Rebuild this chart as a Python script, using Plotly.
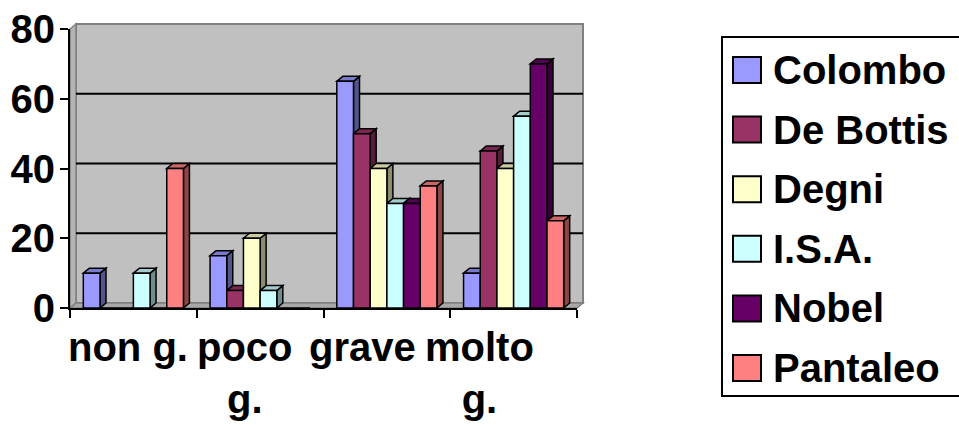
import plotly.graph_objects as go

# ---- data ----
categories = ["non g.", "poco<br>g.", "grave", "molto<br>g."]
series_names = ["Colombo", "De Bottis", "Degni", "I.S.A.", "Nobel", "Pantaleo"]
colombo = [10, 15, 65, 10]
de_bottis = [0, 5, 50, 45]
degni = [0, 20, 40, 40]
isa = [10, 5, 30, 55]
nobel = [0, 0, 30, 70]
pantaleo = [40, 0, 35, 25]
y_ticks = [0, 20, 40, 60, 80]

series_values = [colombo, de_bottis, degni, isa, nobel, pantaleo]
colors = ["#9999FF", "#993366", "#FFFFCC", "#CCFFFF", "#660066", "#FF8080"]

# ---- geometry (pixels) ----
W, H = 959, 425
L, R, T, B = 70, 577, 29, 308          # front plot frame
DX, DY = 6, 5                           # 3-D depth offset
Y_MAX = 80
N = len(categories)
XPPU = (R - L) / N                      # px per category unit
YPPU = (B - T) / Y_MAX                  # px per value unit
DDX, DDY = DX / XPPU, DY / YPPU         # depth in data units

GAP = 0.21
BW = (1 - GAP) / len(series_names)
FONT = dict(family="Liberation Sans", size=40, color="black", weight="bold")


def shade(hex_color, k):
    r, g, b = (int(hex_color[i:i + 2], 16) for i in (1, 3, 5))
    return "#%02X%02X%02X" % (int(r * k), int(g * k), int(b * k))


def px(x):
    return (x - L) / (R - L)


def py(y):
    return (B - y) / (B - T)


fig = go.Figure()
shapes = []

# back wall, side wall and floor
shapes.append(dict(type="rect", xref="paper", yref="paper", layer="below",
                   x0=px(L + DX), x1=px(R + DX), y0=py(B - DY), y1=py(T - DY),
                   fillcolor="#C0C0C0", line=dict(color="#808080", width=2)))
shapes.append(dict(type="path", xref="paper", yref="paper", layer="below",
                   path=f"M{px(L)},{py(B)} L{px(L + DX)},{py(B - DY)} "
                        f"L{px(L + DX)},{py(T - DY)} L{px(L)},{py(T)} Z",
                   fillcolor="#B4B4B4", line=dict(color="#808080", width=1.5)))
shapes.append(dict(type="path", xref="paper", yref="paper", layer="below",
                   path=f"M{px(L)},{py(B)} L{px(R)},{py(B)} "
                        f"L{px(R + DX)},{py(B - DY)} L{px(L + DX)},{py(B - DY)} Z",
                   fillcolor="#A8A8A8", line=dict(color="#808080", width=1.5)))
# gridlines on the back wall
for v in y_ticks[1:-1]:
    yy = py(B - DY - v * YPPU)
    shapes.append(dict(type="line", xref="paper", yref="paper", layer="below",
                       x0=px(L + DX), x1=px(R + DX), y0=yy, y1=yy,
                       line=dict(color="black", width=2)))

# bars: front faces as traces, side/top faces as shapes
for j, (name, vals, col) in enumerate(zip(series_names, series_values, colors)):
    off = -(1 - GAP) / 2 + j * BW
    fig.add_trace(go.Bar(
        x=list(range(N)), y=vals, name=name, width=BW, offset=off,
        marker=dict(color=col, line=dict(color="black", width=1.5)),
        showlegend=False, hoverinfo="y+name"))
    for i, v in enumerate(vals):
        if not v:
            continue
        x0 = i + off
        x1 = x0 + BW
        shapes.append(dict(
            type="path", xref="x", yref="y", layer="between",
            path=f"M{x1},0 L{x1 + DDX},{DDY} L{x1 + DDX},{v + DDY} L{x1},{v} Z",
            fillcolor=shade(col, 0.55), line=dict(color="black", width=1.5)))
        shapes.append(dict(
            type="path", xref="x", yref="y", layer="between",
            path=f"M{x0},{v} L{x0 + DDX},{v + DDY} L{x1 + DDX},{v + DDY} L{x1},{v} Z",
            fillcolor=shade(col, 0.8), line=dict(color="black", width=1.5)))

annotations = []

# category labels, evenly spaced beneath the axis
lab0, lab_step, lab_top = 128, 117.3, 323
for i, cat in enumerate(categories):
    annotations.append(dict(xref="paper", yref="paper", x=px(lab0 + i * lab_step),
                            y=py(lab_top), xanchor="center", yanchor="top",
                            align="center", text=cat, showarrow=False, font=FONT))

# legend: frame, swatches and labels
LG_L, LG_T, LG_B = 722, 37, 396
shapes.append(dict(type="rect", xref="paper", yref="paper", layer="above",
                   x0=px(LG_L), x1=px(W + 5), y0=py(LG_B), y1=py(LG_T),
                   line=dict(color="black", width=2), fillcolor="rgba(0,0,0,0)"))
row0, row_step = 70, 59.6
for k, (name, col) in enumerate(zip(series_names, colors)):
    cy = row0 + k * row_step
    shapes.append(dict(type="rect", xref="paper", yref="paper", layer="above",
                       x0=px(733), x1=px(761), y0=py(cy + 13), y1=py(cy - 13),
                       fillcolor=col, line=dict(color="black", width=2)))
    annotations.append(dict(xref="paper", yref="paper", x=px(771), y=py(cy),
                            xanchor="left", yanchor="middle", text=name,
                            showarrow=False, font=FONT))

fig.update_layout(
    width=W, height=H,
    margin=dict(l=L, r=W - R, t=T, b=H - B, autoexpand=False),
    paper_bgcolor="white", plot_bgcolor="rgba(0,0,0,0)",
    barmode="overlay",
    shapes=shapes, annotations=annotations,
    xaxis=dict(range=[-0.5, N - 0.5], tickvals=[i - 0.5 for i in range(N + 1)],
               ticks="outside", ticklen=8, tickwidth=2, tickcolor="black",
               showticklabels=False, showgrid=False, zeroline=False,
               showline=True, linecolor="black", linewidth=2, fixedrange=True),
    yaxis=dict(range=[0, Y_MAX], tickvals=y_ticks, ticks="outside", ticklen=8,
               tickwidth=2, tickcolor="black", showgrid=False, zeroline=False,
               showline=True, linecolor="black", linewidth=2, tickfont=FONT,
               ticklabelstandoff=-3, fixedrange=True),
)

fig.write_html("out.html")
